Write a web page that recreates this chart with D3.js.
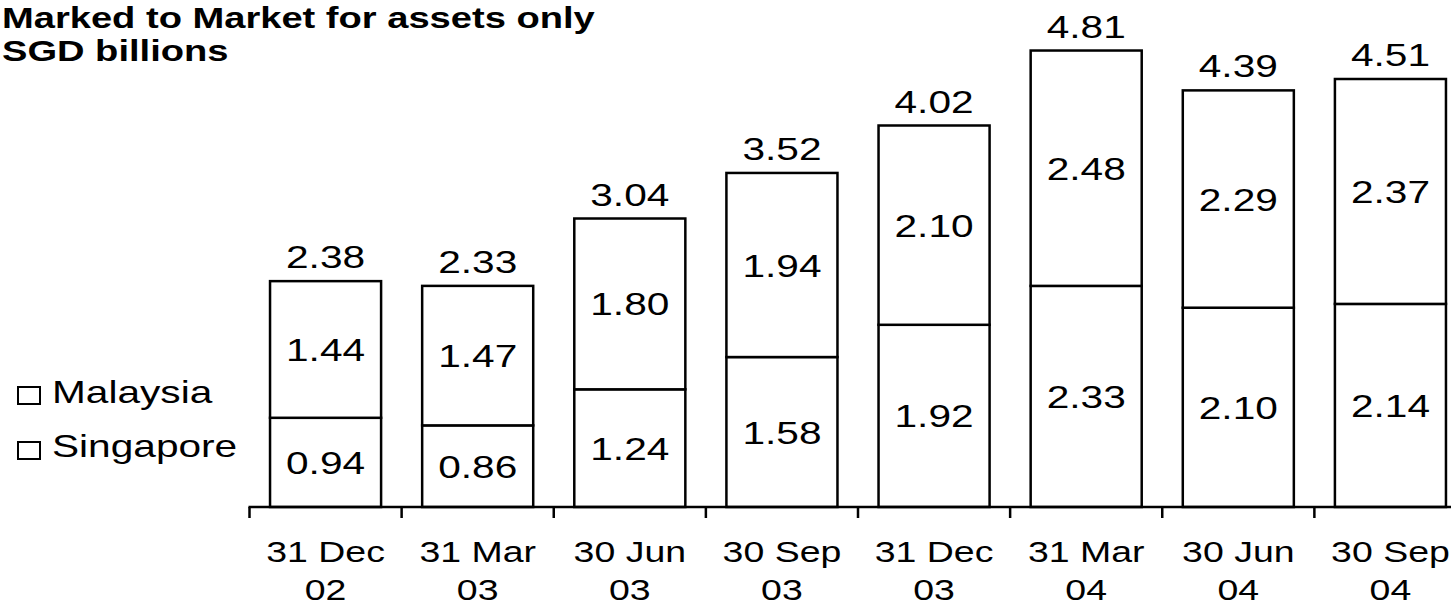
<!DOCTYPE html>
<html>
<head>
<meta charset="utf-8">
<script src="https://cdn.jsdelivr.net/npm/d3@7"></script>
<style>
  html, body { margin: 0; padding: 0; background: #fff; overflow: hidden; }
  svg { display: block; }
  text { font-family: "Liberation Sans", Arial, sans-serif; fill: #000; }
</style>
</head>
<body>
<svg id="chart" width="1451" height="607"></svg>
<script>
// ---- Data ----
const categories = ["31 Dec 02", "31 Mar 03", "30 Jun 03", "30 Sep 03", "31 Dec 03", "31 Mar 04", "30 Jun 04", "30 Sep 04"];
const singapore = [0.94, 0.86, 1.24, 1.58, 1.92, 2.33, 2.10, 2.14];
const malaysia  = [1.44, 1.47, 1.80, 1.94, 2.10, 2.48, 2.29, 2.37];
const seriesNames = ["Malaysia", "Singapore"];
const titleLines = ["Marked to Market for assets only", "SGD billions"];

// ---- Setup ----
const W = 1451, H = 607;
const SX = 1.27; // horizontal stretch of the original text
const svg = d3.select("#chart");

const x = d3.scaleBand()
  .domain(categories)
  .range([249.5, 1466.5])
  .paddingInner(0.27)
  .paddingOuter(0.135);

const y = d3.scaleLinear().domain([0, 5]).range([507, 507 - 5 * 94.9]);

const totals = categories.map((c, i) => +(singapore[i] + malaysia[i]).toFixed(2));
const fmt = d3.format(".2f");

function stretchedText(g, tx, ty, str, size, anchor, weight) {
  return g.append("text")
    .attr("transform", `translate(${tx},${ty}) scale(${SX},1)`)
    .attr("text-anchor", anchor || "middle")
    .attr("font-size", size)
    .attr("font-weight", weight || "normal")
    .text(str);
}

// ---- Title ----
const tg = svg.append("g");
stretchedText(tg, 2, 28, titleLines[0], 30, "start", "bold");
stretchedText(tg, 2, 61, titleLines[1], 30, "start", "bold");

// ---- Bars ----
const bars = svg.append("g");
categories.forEach((c, i) => {
  const x0 = x(c), bw = x.bandwidth();
  // Singapore (bottom)
  bars.append("rect")
    .attr("x", x0).attr("width", bw)
    .attr("y", y(singapore[i])).attr("height", y(0) - y(singapore[i]))
    .attr("fill", "#fff").attr("stroke", "#000").attr("stroke-width", 2.5);
  // Malaysia (top)
  bars.append("rect")
    .attr("x", x0).attr("width", bw)
    .attr("y", y(totals[i])).attr("height", y(singapore[i]) - y(totals[i]))
    .attr("fill", "#fff").attr("stroke", "#000").attr("stroke-width", 2.5);
});

// ---- Value labels ----
const lg = svg.append("g");
categories.forEach((c, i) => {
  const cx = x(c) + x.bandwidth() / 2;
  const sMid = (y(0) + y(singapore[i])) / 2;
  const mMid = (y(singapore[i]) + y(totals[i])) / 2;
  stretchedText(lg, cx, sMid + 11.5, fmt(singapore[i]), 32);
  stretchedText(lg, cx, mMid + 11.5, fmt(malaysia[i]), 32);
  stretchedText(lg, cx, y(totals[i]) - 13, fmt(totals[i]), 32);
});

// ---- X axis ----
const ax = svg.append("g");
const r0 = x.range()[0];
ax.append("line")
  .attr("x1", r0 - 1).attr("x2", W + 20)
  .attr("y1", y(0)).attr("y2", y(0))
  .attr("stroke", "#000").attr("stroke-width", 2.5);
d3.range(categories.length + 1).forEach(k => {
  const tx = r0 + k * x.step();
  ax.append("line")
    .attr("x1", tx).attr("x2", tx)
    .attr("y1", y(0)).attr("y2", y(0) + 11)
    .attr("stroke", "#000").attr("stroke-width", 2.5);
});
categories.forEach(c => {
  const cx = x(c) + x.bandwidth() / 2;
  const parts = c.split(" ");
  stretchedText(ax, cx, 562, parts[0] + " " + parts[1], 29.5);
  stretchedText(ax, cx, 600, parts[2], 29.5);
});

// ---- Legend ----
const leg = svg.append("g");
const legendBoxY = [387, 442];
const legendTextY = [403, 456.5];
seriesNames.forEach((name, i) => {
  leg.append("rect")
    .attr("x", 18).attr("y", legendBoxY[i])
    .attr("width", 22).attr("height", 17)
    .attr("fill", "#fff").attr("stroke", "#000").attr("stroke-width", 2);
  stretchedText(leg, 52, legendTextY[i], name, 32, "start");
});
</script>
</body>
</html>
